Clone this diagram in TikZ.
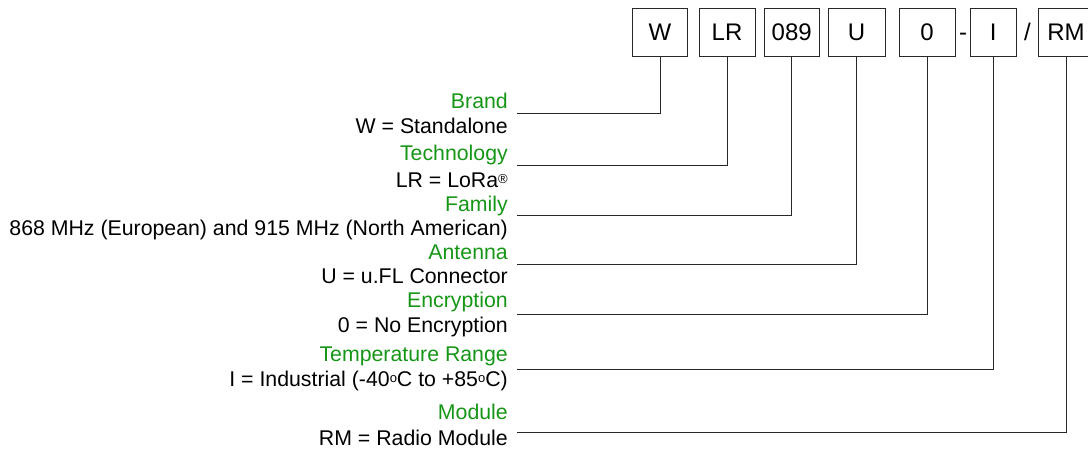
\documentclass[tikz,border=0pt]{standalone}
\usepackage{fontspec}
\setmainfont{Liberation Sans}
\definecolor{lblgreen}{RGB}{22,150,22}
\definecolor{linegray}{RGB}{40,40,40}
\newcommand{\smallsup}[1]{\raisebox{0.35ex}{\fontsize{13}{13}\selectfont #1}}
\begin{document}
\begin{tikzpicture}[x=1pt,y=-1pt,
  every node/.style={font=\fontsize{21.3}{25}\selectfont, inner sep=0pt},
  codebox/.style={draw=linegray, line width=1pt, minimum height=48pt, anchor=center, font=\fontsize{24}{28}\selectfont},
  sep/.style={font=\fontsize{24}{28}\selectfont, anchor=base},
  title/.style={anchor=base east, text=lblgreen},
  desc/.style={anchor=base east, text=black},
  conn/.style={draw=linegray, line width=1pt}]
\useasboundingbox (0,0) rectangle (1088,453);
% code boxes
\node[codebox, minimum width=55pt] (bW) at (660,32) {W};
\node[codebox, minimum width=56pt] (bLR) at (727,32) {LR};
\node[codebox, minimum width=55pt] (b089) at (791.7,32) {089};
\node[codebox, minimum width=57pt] (bU) at (856.5,32) {U};
\node[codebox, minimum width=56pt] (b0) at (927,32) {0};
\node[codebox, minimum width=46pt] (bI) at (993.3,32) {I};
\node[codebox, minimum width=56pt] (bRM) at (1066,32) {RM};
\node[sep] (dash) at (963,40.6) {-};
\node[sep] (slash) at (1027.5,40.6) {/};
% labels
\node[title] (tBrand) at (508,108) {Brand};
\node[desc] (dBrand) at (508,133) {W = Standalone};
\node[title] (tTech) at (508,160) {Technology};
\node[desc] (dTech) at (508,187) {LR = LoRa\smallsup{\textregistered}};
\node[title] (tFam) at (508,211) {Family};
\node[desc] (dFam) at (508,235) {868 MHz (European) and 915 MHz (North American)};
\node[title] (tAnt) at (508,259) {Antenna};
\node[desc] (dAnt) at (508,283) {U = u.FL Connector};
\node[title] (tEnc) at (508,307) {Encryption};
\node[desc] (dEnc) at (508,332) {0 = No Encryption};
\node[title] (tTemp) at (508,361) {Temperature Range};
\node[desc] (dTemp) at (508,386) {I = Industrial (-40\smallsup{o}C to +85\smallsup{o}C)};
\node[title] (tMod) at (508,419) {Module};
\node[desc] (dMod) at (508,445) {RM = Radio Module};
% connector ends
\coordinate (eBrand) at (517,113);
\coordinate (eTech) at (517,165);
\coordinate (eFam) at (517,215);
\coordinate (eAnt) at (517,264);
\coordinate (eEnc) at (517,314);
\coordinate (eTemp) at (517,369);
\coordinate (eMod) at (517,432);
\draw[conn] (bW.south) |- (eBrand);
\draw[conn] (bLR.south) |- (eTech);
\draw[conn] (b089.south) |- (eFam);
\draw[conn] (bU.south) |- (eAnt);
\draw[conn] (b0.south) |- (eEnc);
\draw[conn] (bI.south) |- (eTemp);
\draw[conn] (bRM.south) |- (eMod);
\end{tikzpicture}
\end{document}
